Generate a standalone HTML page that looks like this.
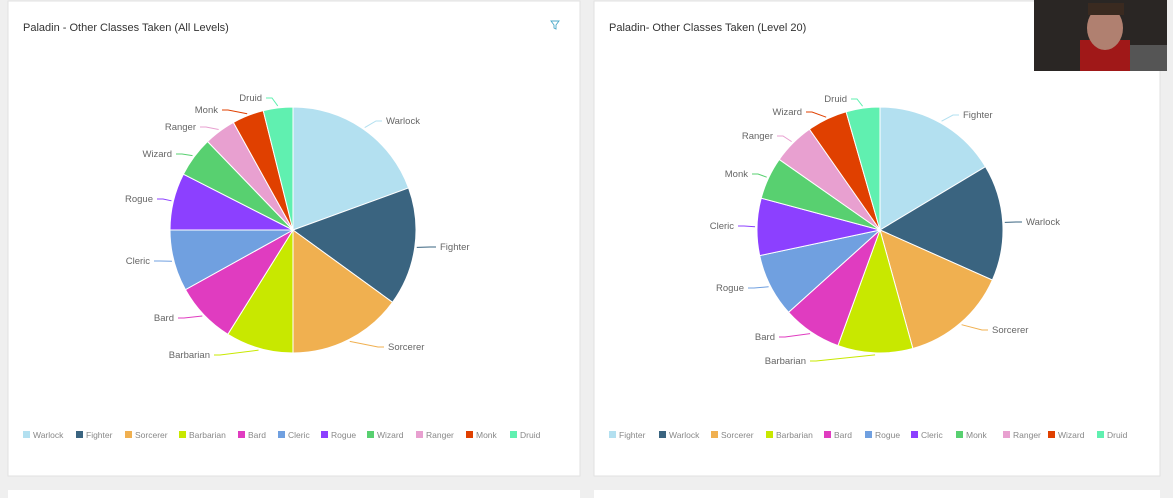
<!DOCTYPE html>
<html><head><meta charset="utf-8"><style>
html,body{margin:0;padding:0;background:#efefef;}
svg{display:block;font-family:"Liberation Sans",sans-serif;}
</style></head><body>
<svg id="s" width="1173" height="498" viewBox="0 0 1173 498" xmlns="http://www.w3.org/2000/svg">
<rect width="1173" height="498" fill="#efefef"/>
<rect x="8" y="1" width="572" height="475" fill="#fff" stroke="#e2e2e2"/>
<rect x="594" y="1" width="566" height="475" fill="#fff" stroke="#e2e2e2"/>
<rect x="8" y="490" width="572" height="10" fill="#fff"/>
<rect x="594" y="490" width="566" height="10" fill="#fff"/>
<text x="23" y="31" font-size="11" fill="#333">Paladin - Other Classes Taken (All Levels)</text>
<text x="609" y="31" font-size="11" fill="#333">Paladin- Other Classes Taken (Level 20)</text>
<path d="M551 21 L559 21 L556 25 L556 29 L554 28 L554 25 Z" fill="none" stroke="#4aa8c8" stroke-width="0.9"/>
<g id="g"></g>
<rect x="1034" y="0" width="133" height="71" fill="#2a2624"/>
<rect x="1080" y="40" width="50" height="31" fill="#a01818"/>
<ellipse cx="1105" cy="28" rx="18" ry="22" fill="#b08070"/>
<rect x="1088" y="3" width="36" height="12" fill="#3a2a20"/>
<rect x="1130" y="45" width="37" height="26" fill="#555"/>
</svg>
<script>
var C=["#b3e0f0","#3a6480","#f0b050","#c8e800","#e03cc0","#70a0e0","#8c40ff","#58d070","#e8a0d0","#e04000","#60f0b0"];
function pie(cx,cy,r,b,names,labels,leg){
 var g=document.getElementById('g'),h='';
 var pts=[0].concat(b).concat([360]);
 for(var i=0;i<11;i++){
  var a0=(pts[i]-90)*Math.PI/180,a1=(pts[i+1]-90)*Math.PI/180;
  var x0=cx+r*Math.cos(a0),y0=cy+r*Math.sin(a0),x1=cx+r*Math.cos(a1),y1=cy+r*Math.sin(a1);
  var lg=(pts[i+1]-pts[i])>180?1:0;
  h+='<path d="M'+cx+' '+cy+' L'+x0+' '+y0+' A'+r+' '+r+' 0 '+lg+' 1 '+x1+' '+y1+' Z" fill="'+C[i]+'" stroke="#fff" stroke-width="1"/>';
  var am=((pts[i]+pts[i+1])/2-90)*Math.PI/180;
  var ex=cx+(r+2)*Math.cos(am),ey=cy+(r+2)*Math.sin(am);
  var L=labels[i],lx=L[0]+(L[2]=='end'?4:-4),ly=L[1]-3;
  h+='<polyline points="'+ex+','+ey+' '+(lx+(L[2]=='end'?6:-6))+','+ly+' '+lx+','+ly+'" fill="none" stroke="'+C[i]+'" stroke-width="1"/>';
  h+='<text x="'+L[0]+'" y="'+L[1]+'" font-size="9.5" fill="#666" text-anchor="'+L[2]+'">'+names[i]+'</text>';
  h+='<rect x="'+leg[i]+'" y="431" width="7" height="7" fill="'+C[i]+'"/><text x="'+(leg[i]+10)+'" y="438" font-size="8.5" fill="#888">'+names[i]+'</text>';
 }
 g.innerHTML+=h;
}
pie(293,230,123,[70,126,180,212,241,270,297,316,331,346],
 ["Warlock","Fighter","Sorcerer","Barbarian","Bard","Cleric","Rogue","Wizard","Ranger","Monk","Druid"],
 [[386,124,'start'],[440,250,'start'],[388,350,'start'],[210,358,'end'],[174,321,'end'],[150,264,'end'],[153,202,'end'],[172,157,'end'],[196,130,'end'],[218,113,'end'],[262,101,'end']],
 [23,76,125,179,238,278,321,367,416,466,510]);
pie(880,230,123,[59,114,164.5,200,228,258,285,305,325,344],
 ["Fighter","Warlock","Sorcerer","Barbarian","Bard","Rogue","Cleric","Monk","Ranger","Wizard","Druid"],
 [[963,118,'start'],[1026,225,'start'],[992,333,'start'],[806,364,'end'],[775,340,'end'],[744,291,'end'],[734,229,'end'],[748,177,'end'],[773,139,'end'],[802,115,'end'],[847,102,'end']],
 [609,659,711,766,824,865,911,956,1003,1048,1097]);
</script>
</body></html>
